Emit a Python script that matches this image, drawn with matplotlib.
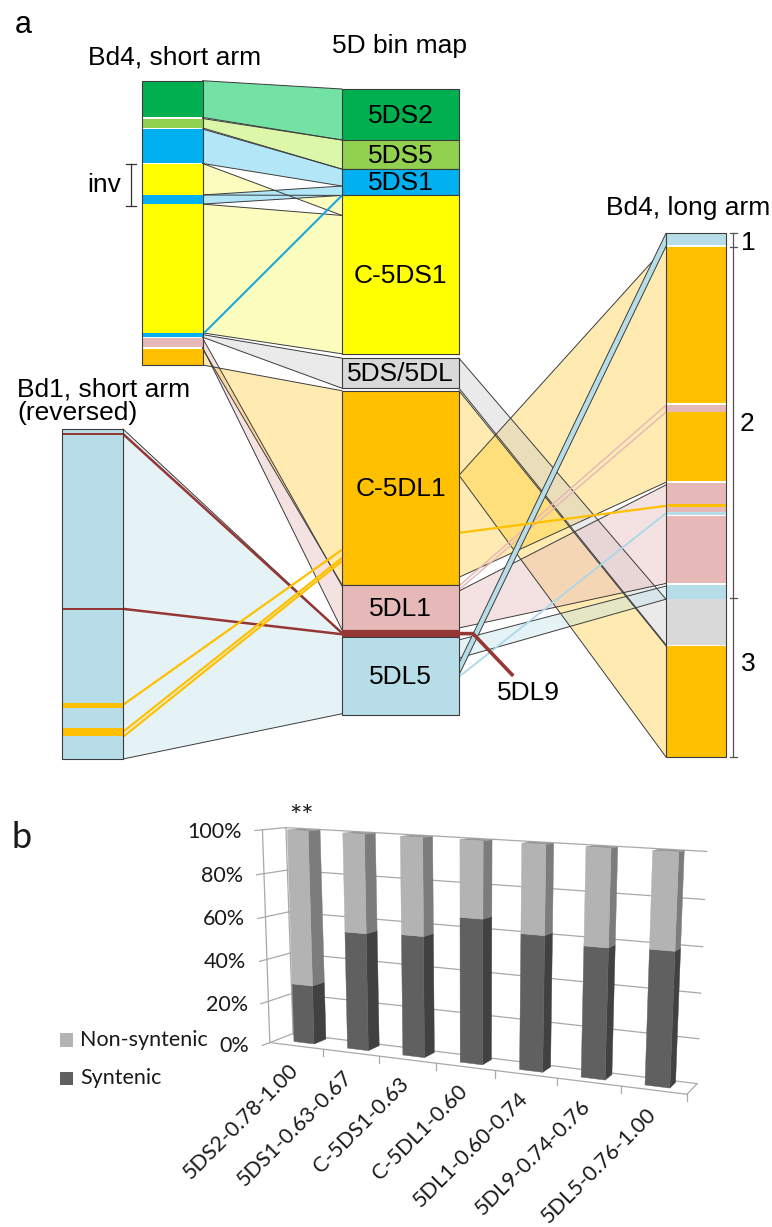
import numpy as np
import matplotlib
matplotlib.use('Agg')
import matplotlib.pyplot as plt
from matplotlib.patches import Rectangle, Polygon

# ======================= DATA =======================
# ---- panel a: segment boundaries, in % of each drawn chromosome/bin map ----
bin_names = ['5DS2', '5DS5', '5DS1', 'C-5DS1', '5DS/5DL', 'C-5DL1', '5DL1', '5DL9', '5DL5']
bin_start = [0.0, 8.15, 12.8, 17.0, 43.0, 48.2, 79.3, 86.5, 87.5]
bin_end = [8.15, 12.8, 17.0, 42.3, 47.8, 79.3, 86.5, 87.5, 100.0]

bd4s_bin = ['5DS2', '5DS5', '5DS1', 'C-5DS1', '5DS1', 'C-5DS1', '5DS1', '5DL1', 'C-5DL1']
bd4s_start = [0.0, 13.3, 17.0, 29.3, 40.2, 43.4, 88.7, 90.5, 94.2]
bd4s_end = [12.9, 16.6, 29.0, 40.2, 43.4, 88.7, 90.0, 93.7, 100.0]

bd4l_bin = ['5DL5', 'C-5DL1', '5DL1', 'C-5DL1', '5DL1', 'C-5DL1', '5DL1', '5DL5',
            '5DL1', '5DL5', '5DS/5DL', 'C-5DL1']
bd4l_start = [0.0, 2.7, 32.8, 34.2, 47.7, 51.7, 52.3, 53.2, 54.1, 67.2, 69.9, 78.8]
bd4l_end = [2.35, 32.5, 34.2, 47.4, 51.7, 52.3, 53.2, 53.8, 66.9, 69.9, 78.6, 100.0]

bd1_bin = ['5DL5', '5DL9', '5DL9', 'C-5DL1', 'C-5DL1']
bd1_start = [0.0, 1.2, 54.2, 83.0, 90.6]
bd1_end = [100.0, 1.9, 54.9, 84.5, 93.0]

# links: (from, from_a, from_b, to, to_a, to_b, bin, kind)
links_bd4s = [
    ('bd4s', 0.0, 12.9, 'bin', 0.0, 8.15, '5DS2', 'ribbon'),
    ('bd4s', 13.3, 16.6, 'bin', 8.15, 12.8, '5DS5', 'ribbon'),
    ('bd4s', 17.0, 29.1, 'bin', 12.8, 15.5, '5DS1', 'ribbon'),
    ('bd4s', 29.1, 40.2, 'bin', 20.2, 17.0, 'C-5DS1', 'ribbon'),
    ('bd4s', 40.2, 43.4, 'bin', 15.5, 17.0, '5DS1', 'ribbon'),
    ('bd4s', 43.4, 88.7, 'bin', 20.2, 42.3, 'C-5DS1', 'ribbon'),
    ('bd4s', 89.3, 90.2, 'bin', 43.0, 47.8, '5DS/5DL', 'ribbon'),
    ('bd4s', 90.5, 93.7, 'bin', 79.4, 86.4, '5DL1', 'ribbon'),
    ('bd4s', 94.2, 100.0, 'bin', 79.2, 48.2, 'C-5DL1', 'ribbon'),
    ('bd4s', 89.3, 89.3, 'bin', 17.0, 17.0, '5DS1', 'line'),
]
links_bd1 = [
    ('bd1', 0.0, 100.0, 'bin', 86.9, 99.8, '5DL5', 'ribbon'),
    ('bd1', 1.5, 1.5, 'bin', 86.9, 86.9, '5DL9', 'line'),
    ('bd1', 54.5, 54.5, 'bin', 87.1, 87.1, '5DL9', 'line'),
    ('bd1', 83.6, 83.6, 'bin', 73.6, 73.6, 'C-5DL1', 'line'),
    ('bd1', 91.8, 91.8, 'bin', 74.9, 74.9, 'C-5DL1', 'line'),
    ('bd1', 93.3, 93.3, 'bin', 75.4, 75.4, 'C-5DL1', 'line'),
]
links_bd4l = [
    ('bin', 48.2, 61.7, 'bd4l', 78.8, 100.0, 'C-5DL1', 'ribbon'),
    ('bin', 61.7, 78.0, 'bd4l', 2.6, 47.6, 'C-5DL1', 'ribbon'),
    ('bin', 43.0, 47.8, 'bd4l', 69.9, 78.6, '5DS/5DL', 'ribbon'),
    ('bin', 80.2, 86.1, 'bd4l', 48.1, 66.9, '5DL1', 'ribbon'),
    ('bin', 88.0, 90.9, 'bd4l', 67.4, 69.9, '5DL5', 'ribbon'),
    ('bin', 79.4, 80.0, 'bd4l', 32.9, 34.2, '5DL1', 'band'),
    ('bin', 91.7, 93.6, 'bd4l', 0.1, 2.6, '5DL5', 'band'),
    ('bin', 70.9, 70.9, 'bd4l', 52.1, 52.1, 'C-5DL1', 'line'),
    ('bin', 93.9, 93.9, 'bd4l', 53.5, 53.5, '5DL5', 'line'),
]

# ---- panel b ----
cats = ['5DS2-0.78-1.00', '5DS1-0.63-0.67', 'C-5DS1-0.63', 'C-5DL1-0.60',
        '5DL1-0.60-0.74', '5DL9-0.74-0.76', '5DL5-0.76-1.00']
syntenic = [28, 55, 56, 66, 61, 58, 59]
non_syntenic = [72, 45, 44, 34, 39, 42, 41]
pct_ticks = [0, 20, 40, 60, 80, 100]

# ======================= STYLE / LAYOUT =======================
FA = ['Liberation Sans', 'DejaVu Sans']
FB = ['Lato', 'DejaVu Sans']
TXTB = '#1a1a1a'
bin_color = {'5DS2': '#00b050', '5DS5': '#92d050', '5DS1': '#00b0f0', 'C-5DS1': '#ffff00',
             '5DS/5DL': '#d9d9d9', 'C-5DL1': '#ffc000', '5DL1': '#e6b9b8',
             '5DL9': '#953735', '5DL5': '#b7dee8'}
ribbon_style = {'5DS2': ('#74e2a4', 1.0), '5DS5': ('#dcf7a9', 1.0), '5DS1': ('#b3e7f8', 1.0),
                'C-5DS1': ('#fbfcbd', 1.0), '5DS/5DL': ('#c8c8c8', 0.38),
                'C-5DL1': ('#ffc000', 0.30), '5DL1': ('#e6b9b8', 0.42), '5DL5': ('#b7dee8', 0.35)}
line_style = {'5DS1': ('#1ba8dc', 1.5), '5DL9': ('#953735', 1.8),
              'C-5DL1': ('#ffc000', 1.6), '5DL5': ('#a8d8ea', 1.3)}
EDGE = '#3c3c3c'
cols = {'bd4s': (141.5, 202.5, 80.7, 365.0),
        'bin': (342.0, 459.0, 89.0, 715.0),
        'bd1': (62.0, 123.0, 429.0, 759.0),
        'bd4l': (666.0, 726.0, 232.7, 757.0)}


def ypos(col, pct):
    x0, x1, y0, y1 = cols[col]
    return y0 + (y1 - y0) * pct / 100.0


fig = plt.figure(figsize=(7.72, 12.27), dpi=100)
ax = fig.add_axes([0, 0, 1, 1])
ax.set_xlim(0, 772)
ax.set_ylim(1227, 0)
ax.axis('off')


def draw_links(links, z):
    for (fa, a0, a1, fb, b0, b1, b, kind) in links:
        xa = cols[fa][1]
        xb = cols[fb][0]
        ya0, ya1 = ypos(fa, a0), ypos(fa, a1)
        yb0, yb1 = ypos(fb, b0), ypos(fb, b1)
        if kind == 'ribbon':
            c, al = ribbon_style[b]
            ax.add_patch(Polygon([(xa, ya0), (xb, yb0), (xb, yb1), (xa, ya1)], closed=True,
                                 facecolor=c, alpha=al, edgecolor='none', zorder=z))
            ax.plot([xa, xb], [ya0, yb0], color=EDGE, lw=0.7, zorder=z + 0.1)
            ax.plot([xa, xb], [ya1, yb1], color=EDGE, lw=0.7, zorder=z + 0.1)
        elif kind == 'band':
            if b == '5DL1':
                ax.add_patch(Polygon([(xa, ya0), (xb, yb0), (xb, yb1), (xa, ya1)], closed=True,
                                     facecolor='none', edgecolor=bin_color[b], lw=1.1, zorder=z + 0.2))
            else:
                ax.add_patch(Polygon([(xa, ya0), (xb, yb0), (xb, yb1), (xa, ya1)], closed=True,
                                     facecolor=bin_color[b], edgecolor='none', zorder=z + 0.2))
                ax.plot([xa, xb], [ya0, yb0], color=EDGE, lw=0.7, zorder=z + 0.3)
                ax.plot([xa, xb], [ya1, yb1], color=EDGE, lw=0.7, zorder=z + 0.3)
        else:
            c, lw = line_style[b]
            ax.plot([xa, xb], [ya0, yb0], color=c, lw=lw, zorder=3, solid_capstyle='butt')


draw_links(links_bd4s, 1)
draw_links(links_bd1, 1)
draw_links(links_bd4l, 1.5)


def draw_column(col, starts, ends, bins):
    x0, x1, y0, y1 = cols[col]
    for s, e, b in zip(starts, ends, bins):
        ax.add_patch(Rectangle((x0, ypos(col, s)), x1 - x0, ypos(col, e) - ypos(col, s),
                               facecolor=bin_color[b], edgecolor='none', zorder=4))
    ax.add_patch(Rectangle((x0, y0), x1 - x0, y1 - y0, facecolor='none',
                           edgecolor=EDGE, lw=0.8, zorder=4.5))


draw_column('bd4s', bd4s_start, bd4s_end, bd4s_bin)
draw_column('bd4l', bd4l_start, bd4l_end, bd4l_bin)
draw_column('bd1', bd1_start, bd1_end, bd1_bin)

# 5D bin map
bx0, bx1 = cols['bin'][0], cols['bin'][1]
for name, s, e in zip(bin_names, bin_start, bin_end):
    ya, yb = ypos('bin', s), ypos('bin', e)
    ax.add_patch(Rectangle((bx0, ya), bx1 - bx0, yb - ya, facecolor=bin_color[name],
                           edgecolor=EDGE if name != '5DL9' else bin_color[name], lw=0.8, zorder=4))
    if name != '5DL9':
        ax.text((bx0 + bx1) / 2, (ya + yb) / 2 + 1, name, ha='center', va='center',
                fontsize=19, family=FA, zorder=6)

# 5DL9 callout
i9 = bin_names.index('5DL9')
y9 = ypos('bin', (bin_start[i9] + bin_end[i9]) / 2)
ax.plot([bx0 + 20, bx1, bx1 + 14, bx1 + 53], [y9, y9, y9, y9 + 41],
        color=bin_color['5DL9'], lw=2.6, zorder=5, solid_joinstyle='miter')
ax.text(528, 700, '5DL9', ha='center', va='baseline', fontsize=19, family=FA)

# titles / labels panel a
ax.text(23, 33, 'a', ha='center', va='baseline', fontsize=22, family=FA)
ax.text(175, 64.5, 'Bd4, short arm', ha='center', va='baseline', fontsize=19, family=FA)
ax.text(399, 53, '5D bin map', ha='center', va='baseline', fontsize=19, family=FA)
ax.text(770, 215, 'Bd4, long arm', ha='right', va='baseline', fontsize=19, family=FA)
ax.text(17, 396, 'Bd1, short arm', ha='left', va='baseline', fontsize=19, family=FA)
ax.text(17, 420, '(reversed)', ha='left', va='baseline', fontsize=19, family=FA)
ax.text(121, 191.5, 'inv', ha='right', va='baseline', fontsize=19, family=FA)
# inv bracket
ax.plot([131, 131], [164, 205.5], color='#333333', lw=0.9)
for yy in (164, 205.5):
    ax.plot([126, 136], [yy, yy], color='#333333', lw=0.9)

# long-arm region bracket
ax.plot([733, 733], [232.7, 757], color='#555555', lw=0.9)
for yy in (232.7, 246.7, 598, 757):
    ax.plot([729.5, 736.5], [yy, yy], color='#555555', lw=0.9)
ax.text(741, 250, '1', ha='left', va='baseline', fontsize=19, family=FA)
ax.text(740, 431, '2', ha='left', va='baseline', fontsize=19, family=FA)
ax.text(741, 671, '3', ha='left', va='baseline', fontsize=19, family=FA)

# ======================= PANEL b (pseudo-3D columns) =======================


def homography(src, dst):
    A, bb = [], []
    for (u, v), (x, y) in zip(src, dst):
        A.append([u, v, 1, 0, 0, 0, -u * x, -v * x]); bb.append(x)
        A.append([0, 0, 0, u, v, 1, -u * y, -v * y]); bb.append(y)
    h = np.linalg.solve(np.array(A, float), np.array(bb, float))
    return np.append(h, 1.0).reshape(3, 3)


HW = 0.19  # half bar width (category units)
Hm = homography([(0.5 - HW, 100), (0.5 - HW, 0), (6.5 - HW, 100), (6.5 - HW, 0)],
                [(287.3, 830), (294, 1041.5), (652.7, 850.7), (645, 1085)])
VP = np.array([1000.0, 760.0])
KD = 0.0172
YA, YB = -0.64, 1.23


def P(X, Y, Z):
    v = Hm @ np.array([X, Z, 1.0])
    p = v[:2] / v[2]
    return p + (VP - p) * KD * Y


GRID = '#a9a9a9'
ncat = len(cats)


def seg(p, q, **kw):
    ax.plot([p[0], q[0]], [p[1], q[1]], **kw)


for zt in pct_ticks:
    seg(P(0, YB, zt), P(ncat, YB, zt), color=GRID, lw=0.9, zorder=1)
    seg(P(0, YA, zt), P(0, YB, zt), color=GRID, lw=0.9, zorder=1)
    seg(P(0, YA, zt), P(0, YA - 0.6, zt), color=GRID, lw=0.9, zorder=1)
    pt = P(0, YA - 0.6, zt)
    ax.text(pt[0] - 13, pt[1] + 1, f'{zt}%', ha='right', va='center', fontsize=15.5,
            family=FB, color=TXTB)
seg(P(0, YA, 0), P(0, YA, 100), color=GRID, lw=0.9, zorder=1)
seg(P(0, YB, 0), P(0, YB, 100), color=GRID, lw=0.9, zorder=1)
seg(P(0, YA, 0), P(ncat, YA, 0), color=GRID, lw=0.9, zorder=1)
seg(P(ncat, YA, 0), P(ncat, YB, 0), color=GRID, lw=0.9, zorder=1)
for k in range(1, ncat + 1):
    p = P(k, YA, 0)
    seg(p, p + np.array([0, 7]), color=GRID, lw=0.9, zorder=1)

front_c = ['#606060', '#b3b3b3']
side_c = ['#414141', '#7c7c7c']
top_c = ['#4a4a4a', '#979797']
for i in range(ncat):
    tot = syntenic[i] + non_syntenic[i]
    levels = [0, 100.0 * syntenic[i] / tot, 100.0]
    xl, xr = i + 0.5 - HW, i + 0.5 + HW
    for j in range(2):
        z0, z1 = levels[j], levels[j + 1]
        side = [P(xr, 0, z0), P(xr, 1, z0), P(xr, 1, z1), P(xr, 0, z1)]
        front = [P(xl, 0, z0), P(xr, 0, z0), P(xr, 0, z1), P(xl, 0, z1)]
        ax.add_patch(Polygon(side, closed=True, facecolor=side_c[j], edgecolor=side_c[j],
                             lw=0.3, zorder=3))
        ax.add_patch(Polygon(front, closed=True, facecolor=front_c[j], edgecolor=front_c[j],
                             lw=0.3, zorder=3.2))
    top = [P(xl, 0, 100), P(xr, 0, 100), P(xr, 1, 100), P(xl, 1, 100)]
    ax.add_patch(Polygon(top, closed=True, facecolor=top_c[1], edgecolor=top_c[1],
                         lw=0.3, zorder=3.1))
    pl = P(i + 0.5, YA, 0)
    ax.text(pl[0] - 1, pl[1] + 21, cats[i], rotation=45, rotation_mode='anchor',
            ha='right', va='center', fontsize=15.5, family=FB, color=TXTB)

pst = P(0.5, 0.5, 100)
ax.text(pst[0] - 2, pst[1] - 12, '**', ha='center', va='center', fontsize=21,
        family=FB, color=TXTB)

ax.text(22, 848, 'b', ha='center', va='baseline', fontsize=26, family=FB, color=TXTB)
ax.add_patch(Rectangle((60, 1033.3), 13.3, 13.3, facecolor=front_c[1], edgecolor='none'))
ax.add_patch(Rectangle((60, 1071.7), 13.3, 13.3, facecolor=front_c[0], edgecolor='none'))
ax.text(80, 1040, 'Non-syntenic', ha='left', va='center', fontsize=15.5, family=FB, color=TXTB)
ax.text(80, 1078.3, 'Syntenic', ha='left', va='center', fontsize=15.5, family=FB, color=TXTB)

fig.savefig('out.png', dpi=100)
